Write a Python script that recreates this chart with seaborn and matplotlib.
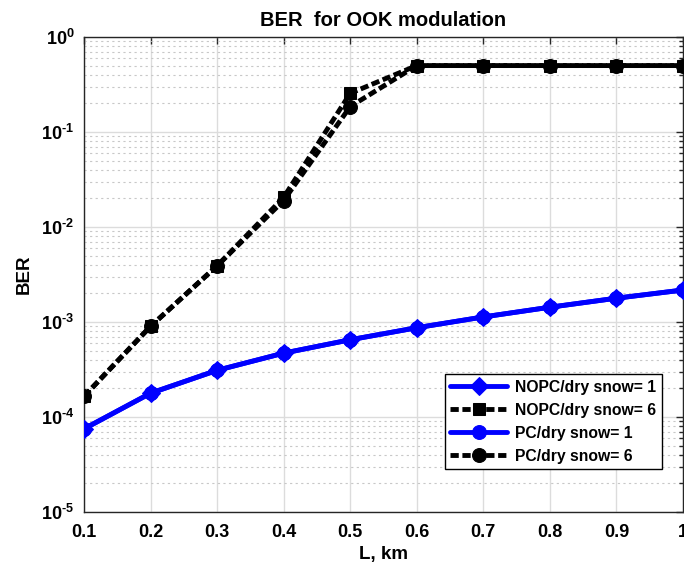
import numpy as np
import pandas as pd
import matplotlib
matplotlib.use("Agg")
import matplotlib.pyplot as plt
import seaborn as sns
from matplotlib.ticker import LogLocator, FixedLocator, FuncFormatter, NullFormatter

L_km = [0.1, 0.2, 0.3, 0.4, 0.5, 0.6, 0.7, 0.8, 0.9, 1.0]
nopc_snow1 = [7.5e-5, 1.78e-4, 3.1e-4, 4.7e-4, 6.5e-4, 8.7e-4, 1.13e-3, 1.43e-3, 1.78e-3, 2.17e-3]
nopc_snow6 = [1.65e-4, 9.0e-4, 3.9e-3, 2.05e-2, 2.55e-1, 0.5, 0.5, 0.5, 0.5, 0.5]
pc_snow1 = [7.5e-5, 1.78e-4, 3.1e-4, 4.7e-4, 6.5e-4, 8.7e-4, 1.13e-3, 1.43e-3, 1.78e-3, 2.17e-3]
pc_snow6 = [1.65e-4, 9.0e-4, 3.9e-3, 1.9e-2, 1.85e-1, 0.5, 0.5, 0.5, 0.5, 0.5]
labels = ["NOPC/dry snow= 1", "NOPC/dry snow= 6", "PC/dry snow= 1", "PC/dry snow= 6"]
x_ticks = [0.1, 0.2, 0.3, 0.4, 0.5, 0.6, 0.7, 0.8, 0.9, 1.0]
x_tick_labels = ["0.1", "0.2", "0.3", "0.4", "0.5", "0.6", "0.7", "0.8", "0.9", "1"]

sns.set_style("white")
plt.rcParams['font.family'] = ['Liberation Sans', 'DejaVu Sans']
plt.rcParams['font.weight'] = 'bold'
plt.rcParams['mathtext.fontset'] = 'custom'
plt.rcParams['mathtext.rm'] = 'Liberation Sans:bold'
plt.rcParams['mathtext.it'] = 'Liberation Sans:bold'
plt.rcParams['mathtext.bf'] = 'Liberation Sans:bold'
plt.rcParams['axes.unicode_minus'] = False
plt.rcParams['text.color'] = 'black'
plt.rcParams['axes.labelcolor'] = 'black'
plt.rcParams['xtick.color'] = 'black'
plt.rcParams['ytick.color'] = 'black'

fig = plt.figure(figsize=(6.84, 5.68), dpi=100)
ax = fig.add_axes([0.1228, 0.0986, 0.8757, 0.8363])

series = [
    (nopc_snow1, labels[0], "#0000ff", "-", "D", 9),
    (nopc_snow6, labels[1], "black", "--", "s", 9),
    (pc_snow1, labels[2], "#0000ff", "-", "o", 10),
    (pc_snow6, labels[3], "black", "--", "o", 10),
]
for vals, lab, col, ls, mk, ms in series:
    df = pd.DataFrame({"L": L_km, "BER": vals})
    sns.lineplot(data=df, x="L", y="BER", ax=ax, color=col, linestyle=ls,
                 marker=mk, markersize=ms, markeredgecolor=col, markerfacecolor=col,
                 linewidth=3.5, label=lab, zorder=3)
for line in ax.get_lines():
    if line.get_linestyle() == "--":
        line.set_dashes([1.7, 0.75])

ax.set_yscale("log")
ax.set_xlim(0.1, 1.0)
ax.set_ylim(1e-5, 1e0)
ax.xaxis.set_major_locator(FixedLocator(x_ticks))
ax.set_xticklabels(x_tick_labels)
ax.yaxis.set_major_locator(LogLocator(base=10, numticks=10))
ax.yaxis.set_minor_locator(LogLocator(base=10, subs=np.arange(2, 10), numticks=20))
ax.yaxis.set_minor_formatter(NullFormatter())


def yfmt(v, p):
    e = int(round(np.log10(v)))
    if e < 0:
        return r"$10^{\text{-}%d}$" % (-e)
    return r"$10^{%d}$" % e


ax.yaxis.set_major_formatter(FuncFormatter(yfmt))

ax.grid(True, which="major", color="#dcdcdc", linewidth=1.0, linestyle="-", zorder=0)
ax.grid(True, which="minor", axis="y", color="#c8c8c8", linewidth=0.8, linestyle=(0, (2, 3)), zorder=0)
ax.set_axisbelow(True)

ax.tick_params(which="both", direction="in", top=True, right=True, labelsize=13, width=1.0,
               color="#262626", labelcolor="black")
ax.tick_params(which="major", length=5)
ax.tick_params(which="minor", length=3)
ax.tick_params(axis="x", which="major", pad=9)
ax.tick_params(axis="y", which="major", pad=7)
for lbl in ax.get_xticklabels() + ax.get_yticklabels():
    lbl.set_fontweight("bold")
for s in ax.spines.values():
    s.set_color("#262626")
    s.set_linewidth(1.0)

ax.set_xlabel("L, km", fontsize=13.5, fontweight="bold", labelpad=3, color="black")
ax.set_ylabel("BER", fontsize=13.5, fontweight="bold", labelpad=6, color="black")
ax.set_title("BER  for OOK modulation", fontsize=14.5, fontweight="bold", pad=8, color="black")

leg = ax.legend(loc="lower right", bbox_to_anchor=(0.965, 0.0905), fontsize=11.3, frameon=True,
                fancybox=False, edgecolor="black", framealpha=1, borderpad=0.35,
                handlelength=3.6, labelspacing=0.5, handletextpad=0.55, borderaxespad=0)
leg.get_frame().set_linewidth(1.0)
for t in leg.get_texts():
    t.set_fontweight("bold")
    t.set_color("black")

fig.savefig("out.png", dpi=100)
